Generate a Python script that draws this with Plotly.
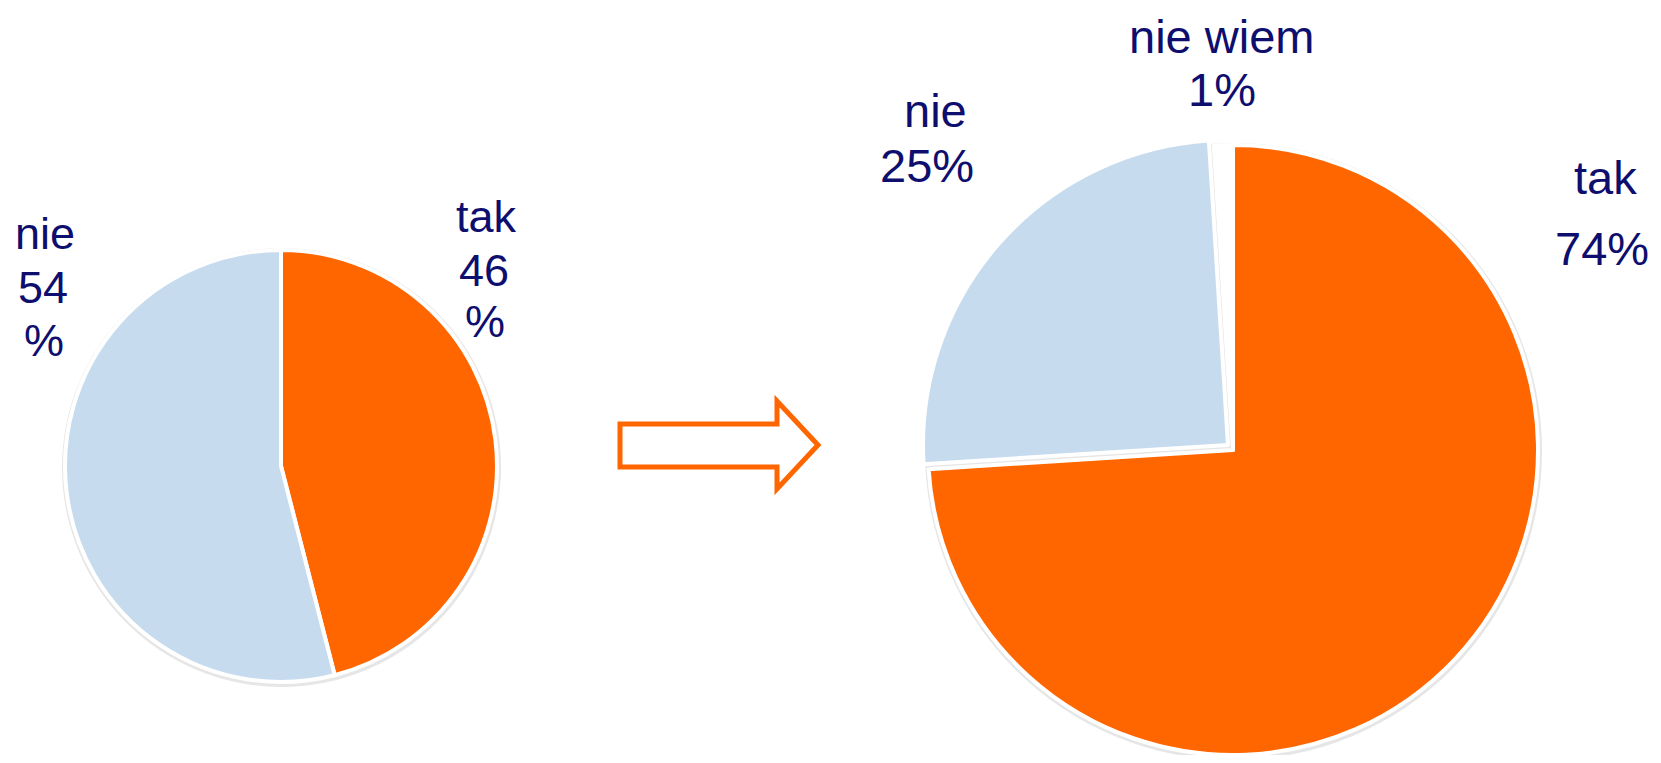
import plotly.graph_objects as go

# Browser body margin of 8px: figure sits at window (8, 8); keep page from overflowing
OFF = 8
WIN_W, WIN_H = 1661, 763
FW, FH = WIN_W - 2 * OFF, WIN_H - 2 * OFF
RIGHT = OFF + FW   # window x of figure right edge
BOTTOM = OFF + FH  # window y of figure bottom

# Data
left_labels = ["tak", "nie"]
left_values = [46, 54]
right_labels = ["tak", "nie", "nie wiem"]
right_values = [74, 25, 1]

ORANGE = "#FF6600"
LIGHT = "#C6DBEE"
NAVY = "#0E0E6E"
CLEAR = "rgba(0,0,0,0)"


def dom(cx, cy, r):
    """Pie domain (paper fractions) for a pie centred at window pixel (cx, cy) with radius r."""
    x0, x1 = (cx - r - OFF) / FW, (cx + r - OFF) / FW
    y0, y1 = (BOTTOM - cy - r) / FH, (BOTTOM - cy + r) / FH
    return dict(x=[max(0, x0), min(1, x1)], y=[max(0, y0), min(1, y1)])


LC, LR = (281, 466), 216
RC, RR = (1233, 450), 305

fig = go.Figure()

# soft shadows behind pies
for (cx, cy), r in [(LC, LR), (RC, RR)]:
    fig.add_shape(type="circle", xref="x", yref="y",
                  x0=cx - r - 3, x1=cx + r + 4, y0=cy - r - 2, y1=cy + r + 5,
                  fillcolor="#e6e6e6", line=dict(width=0), layer="below")

fig.add_trace(go.Pie(
    labels=left_labels, values=left_values, sort=False, direction="clockwise",
    rotation=0, textinfo="none", hoverinfo="label+percent",
    marker=dict(colors=[ORANGE, LIGHT], line=dict(color="white", width=4)),
    domain=dom(LC[0], LC[1], LR), showlegend=False,
))

# right pie: 'tak' and 'nie wiem' in place
fig.add_trace(go.Pie(
    labels=right_labels, values=right_values, sort=False, direction="clockwise",
    rotation=0, textinfo="none", hoverinfo="label+percent",
    marker=dict(colors=[ORANGE, CLEAR, "white"],
                line=dict(color=["white", CLEAR, "white"], width=4)),
    domain=dom(RC[0], RC[1], RR), showlegend=False,
))
# right pie: 'nie' slice slightly pulled out (up-left)
fig.add_trace(go.Pie(
    labels=right_labels, values=right_values, sort=False, direction="clockwise",
    rotation=0, textinfo="none", hoverinfo="skip",
    marker=dict(colors=[CLEAR, LIGHT, CLEAR],
                line=dict(color=[CLEAR, "white", CLEAR], width=4)),
    domain=dom(RC[0] - 5, RC[1] - 5, RR), showlegend=False,
))

# Arrow outline
arrow = "M 620 424 L 777 424 L 777 401 L 818 445 L 777 489 L 777 467 L 620 467 Z"
fig.add_shape(type="path", path=arrow, xref="x", yref="y",
              line=dict(color=ORANGE, width=5), fillcolor="white", layer="above")

FONT = "Liberation Sans, Arial, Helvetica, sans-serif"
# (text, x, y middle)
labels_left = [
    ("nie", 45, 233), ("54", 43, 287), ("%", 44, 340),
    ("tak", 486, 216), ("46", 484, 270), ("%", 485, 321),
]
labels_right = [
    ("nie wiem", 1221, 36, "center"), ("1%", 1222, 89, "center"),
    ("nie", 935, 110, "center"), ("25%", 927, 165, "center"),
    ("tak", 1605, 177, "center"), ("74%", RIGHT - 2, 248, "right"),
]
for txt, x, y in labels_left:
    fig.add_annotation(x=x, y=y, xref="x", yref="y", text=txt, showarrow=False,
                       font=dict(family=FONT, size=45, color=NAVY),
                       xanchor="center", yanchor="middle")
for txt, x, y, anc in labels_right:
    fig.add_annotation(x=x, y=y, xref="x", yref="y", text=txt, showarrow=False,
                       font=dict(family=FONT, size=47, color=NAVY),
                       xanchor=anc, yanchor="middle")

fig.update_layout(
    width=FW, height=FH, margin=dict(l=0, r=0, t=0, b=0),
    paper_bgcolor="white", plot_bgcolor="white",
    xaxis=dict(range=[OFF, RIGHT], visible=False, fixedrange=True),
    yaxis=dict(range=[BOTTOM, OFF], visible=False, fixedrange=True),
)
fig.write_html("out.html")
